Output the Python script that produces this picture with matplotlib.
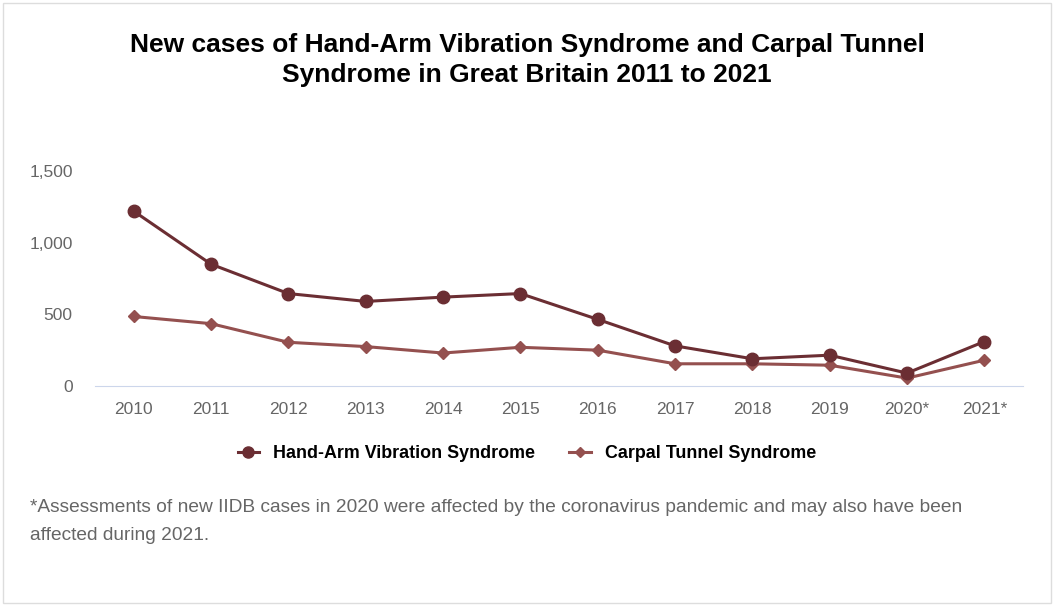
import matplotlib.pyplot as plt
from matplotlib.patches import Rectangle
from matplotlib.lines import Line2D

plt.rcParams['font.family'] = ['Liberation Sans', 'DejaVu Sans']

years = ['2010', '2011', '2012', '2013', '2014', '2015', '2016', '2017', '2018', '2019', '2020*', '2021*']
havs = [1220, 850, 645, 590, 620, 645, 465, 280, 190, 215, 90, 310]
cts = [485, 435, 305, 275, 230, 270, 250, 155, 155, 145, 55, 180]

havs_col = '#6b2e33'
cts_col = '#94504f'

fig = plt.figure(figsize=(10.55, 6.05), dpi=100)
W, H = 1055, 605
fig.patches.append(Rectangle((3 / W, 2 / H), 1048 / W, 600 / H, transform=fig.transFigure,
                             fill=False, ec='#dddddd', lw=1))

ax = fig.add_axes([95 / W, 1 - 386 / H, 928 / W, 215 / H])
x = range(len(years))
ax.plot(x, havs, color=havs_col, lw=2.2, marker='o', ms=9, clip_on=False, zorder=3)
ax.plot(x, cts, color=cts_col, lw=2.2, marker='D', ms=6.5, clip_on=False, zorder=2)

ax.set_xlim(-0.5, len(years) - 0.5)
ax.set_ylim(0, 1500)
ax.set_yticks([0, 500, 1000, 1500])
ax.set_yticklabels(['0', '500', '1,000', '1,500'])
ax.set_xticks(list(x))
ax.set_xticklabels(years)
for s in ['top', 'right', 'left']:
    ax.spines[s].set_visible(False)
ax.spines['bottom'].set_color('#ccd6eb')
ax.tick_params(axis='both', length=0, labelsize=12.5, colors='#666666')
ax.tick_params(axis='x', pad=11.5)
ax.tick_params(axis='y', pad=16)

fig.text(527 / W, 1 - 60 / H, 'New cases of Hand-Arm Vibration Syndrome and Carpal Tunnel\nSyndrome in Great Britain 2011 to 2021',
         ha='center', va='center', fontsize=19, fontweight='bold', linespacing=1.32)

handles = [Line2D([], [], color=havs_col, lw=2.2, marker='o', ms=8),
           Line2D([], [], color=cts_col, lw=2.2, marker='D', ms=5.5)]
fig.legend(handles, ['Hand-Arm Vibration Syndrome', 'Carpal Tunnel Syndrome'],
           loc='center', bbox_to_anchor=(527 / W, 1 - 454 / H), ncol=2, frameon=False,
           prop={'weight': 'bold', 'size': 12.9}, handlelength=1.2, columnspacing=1.9, handletextpad=0.8)

fig.text(30 / W, 1 - 507 / H, '*Assessments of new IIDB cases in 2020 were affected by the coronavirus pandemic and may also have been',
         ha='left', va='center', fontsize=13.8, color='#666666')
fig.text(30 / W, 1 - 536 / H, 'affected during 2021.', ha='left', va='center', fontsize=13.8, color='#666666')

fig.savefig('out.png', dpi=100)
